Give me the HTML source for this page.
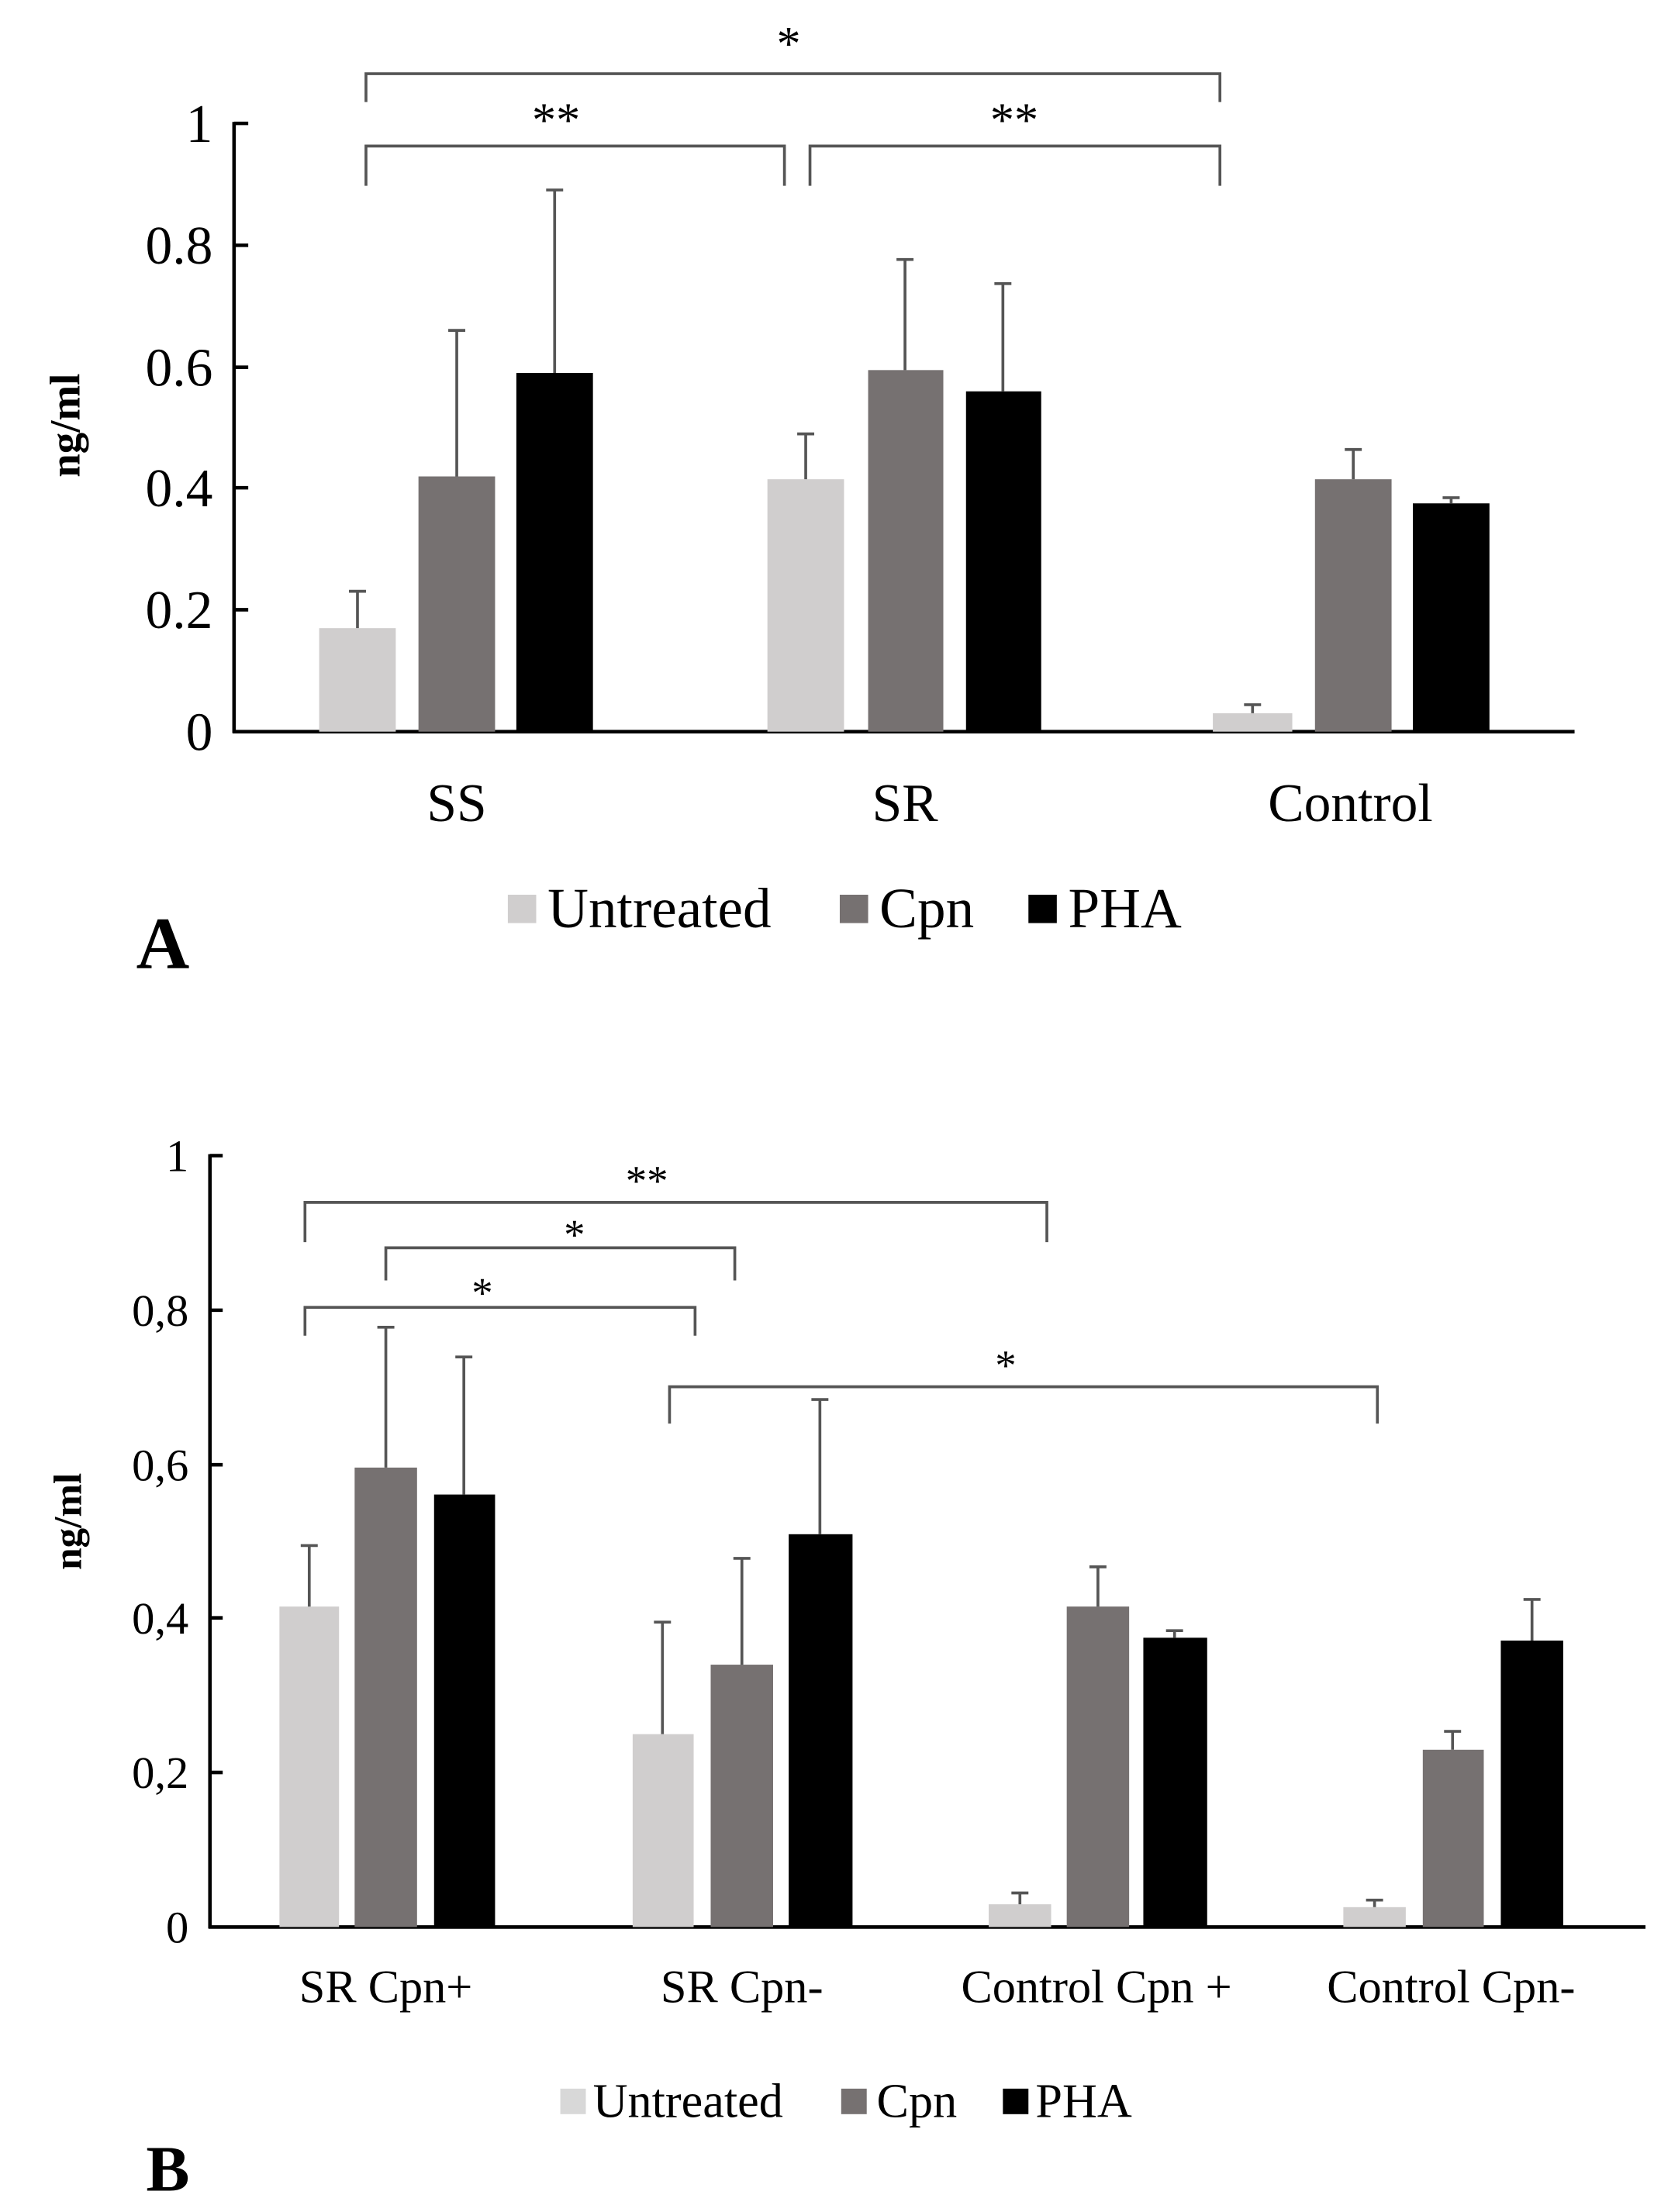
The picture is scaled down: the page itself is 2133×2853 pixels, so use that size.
<!DOCTYPE html>
<html><head><meta charset="utf-8"><style>
html,body{margin:0;padding:0;background:#fff;}
svg{display:block;}
text{font-family:"Liberation Serif",serif;fill:#000;}
</style></head><body>
<svg width="2133" height="2853" viewBox="0 0 1166 1560" preserveAspectRatio="none" xmlns="http://www.w3.org/2000/svg">
<rect width="1166" height="1560" fill="#fff"/>
<!-- Chart A -->
<g stroke="#000" stroke-width="2.5" fill="none">
<line x1="165" y1="86" x2="165" y2="517"/>
<line x1="164" y1="516" x2="1110" y2="516"/>
<line x1="165" y1="87" x2="175" y2="87"/>
<line x1="165" y1="173" x2="175" y2="173"/>
<line x1="165" y1="259" x2="175" y2="259"/>
<line x1="165" y1="344" x2="175" y2="344"/>
<line x1="165" y1="430" x2="175" y2="430"/>
</g>
<g font-size="38" text-anchor="end">
<text x="150" y="100">1</text>
<text x="150" y="186">0.8</text>
<text x="150" y="272">0.6</text>
<text x="150" y="357">0.4</text>
<text x="150" y="443">0.2</text>
<text x="150" y="529">0</text>
</g>
<text transform="translate(56,300) rotate(-90)" font-size="30" font-weight="bold" text-anchor="middle">ng/ml</text>
<!-- bars A: y = 516 - v*429 -->
<g>
<rect x="225" y="443" width="54" height="73" fill="#d0cece"/>
<rect x="295" y="336" width="54" height="180" fill="#767171"/>
<rect x="364" y="263" width="54" height="253" fill="#000"/>
<rect x="541" y="338" width="54" height="178" fill="#d0cece"/>
<rect x="612" y="261" width="53" height="255" fill="#767171"/>
<rect x="681" y="276" width="53" height="240" fill="#000"/>
<rect x="855" y="503" width="56" height="13" fill="#d0cece"/>
<rect x="927" y="338" width="54" height="178" fill="#767171"/>
<rect x="996" y="355" width="54" height="161" fill="#000"/>
</g>
<g stroke="#555" stroke-width="2" fill="none">
<path d="M252 443V417M246 417H258"/>
<path d="M322 336V233M316 233H328"/>
<path d="M391 263V134M385 134H397"/>
<path d="M568 338V306M562 306H574"/>
<path d="M638 261V183M632 183H644"/>
<path d="M707 276V200M701 200H713"/>
<path d="M883 503V497M877 497H889"/>
<path d="M954 338V317M948 317H960"/>
<path d="M1023 355V351M1017 351H1029"/>
</g>
<g stroke="#555" stroke-width="2" fill="none">
<path d="M258 72V52H860V72"/>
<path d="M258 131V103H553V131"/>
<path d="M571 131V103H860V131"/>
</g>
<g font-size="34" text-anchor="middle">
<text x="556" y="42">*</text>
<text x="392" y="96">**</text>
<text x="715" y="96">**</text>
</g>
<g font-size="38" text-anchor="middle">
<text x="322" y="579">SS</text>
<text x="638" y="579">SR</text>
<text x="952" y="579">Control</text>
</g>
<rect x="358" y="631" width="20" height="20" fill="#d0cece"/>
<rect x="592" y="631" width="20" height="20" fill="#767171"/>
<rect x="725" y="631" width="20" height="20" fill="#000"/>
<g font-size="40">
<text x="386" y="654">Untreated</text>
<text x="620" y="654">Cpn</text>
<text x="753" y="654">PHA</text>
</g>
<text x="96" y="683" font-size="52" font-weight="bold">A</text>

<!-- Chart B: y = 1359 - v*544 -->
<g stroke="#000" stroke-width="2.5" fill="none">
<line x1="148" y1="814" x2="148" y2="1360"/>
<line x1="147" y1="1359" x2="1160" y2="1359"/>
<line x1="148" y1="815" x2="157" y2="815"/>
<line x1="148" y1="924" x2="157" y2="924"/>
<line x1="148" y1="1033" x2="157" y2="1033"/>
<line x1="148" y1="1141" x2="157" y2="1141"/>
<line x1="148" y1="1250" x2="157" y2="1250"/>
</g>
<g font-size="32" text-anchor="end">
<text x="133" y="826">1</text>
<text x="133" y="935">0,8</text>
<text x="133" y="1044">0,6</text>
<text x="133" y="1152">0,4</text>
<text x="133" y="1261">0,2</text>
<text x="133" y="1370">0</text>
</g>
<text transform="translate(57,1073) rotate(-90)" font-size="28" font-weight="bold" text-anchor="middle">ng/ml</text>
<g>
<rect x="197" y="1133" width="42" height="226" fill="#d0cece"/>
<rect x="250" y="1035" width="44" height="324" fill="#767171"/>
<rect x="306" y="1054" width="43" height="305" fill="#000"/>
<rect x="446" y="1223" width="43" height="136" fill="#d0cece"/>
<rect x="501" y="1174" width="44" height="185" fill="#767171"/>
<rect x="556" y="1082" width="45" height="277" fill="#000"/>
<rect x="697" y="1343" width="44" height="16" fill="#d0cece"/>
<rect x="752" y="1133" width="44" height="226" fill="#767171"/>
<rect x="806" y="1155" width="45" height="204" fill="#000"/>
<rect x="947" y="1345" width="44" height="14" fill="#d0cece"/>
<rect x="1003" y="1234" width="43" height="125" fill="#767171"/>
<rect x="1058" y="1157" width="44" height="202" fill="#000"/>
</g>
<g stroke="#555" stroke-width="2" fill="none">
<path d="M218 1133V1090M212 1090H224"/>
<path d="M272 1035V936M266 936H278"/>
<path d="M327 1054V957M321 957H333"/>
<path d="M467 1223V1144M461 1144H473"/>
<path d="M523 1174V1099M517 1099H529"/>
<path d="M578 1082V987M572 987H584"/>
<path d="M719 1343V1335M713 1335H725"/>
<path d="M774 1133V1105M768 1105H780"/>
<path d="M828 1155V1150M822 1150H834"/>
<path d="M969 1345V1340M963 1340H975"/>
<path d="M1024 1234V1221M1018 1221H1030"/>
<path d="M1080 1157V1128M1074 1128H1086"/>
</g>
<g stroke="#555" stroke-width="2" fill="none">
<path d="M215 876V848H738V876"/>
<path d="M272 903V880H518V903"/>
<path d="M215 942V922H490V942"/>
<path d="M472 1004V978H971V1004"/>
</g>
<g font-size="30" text-anchor="middle">
<text x="456" y="843">**</text>
<text x="405" y="881">*</text>
<text x="340" y="922">*</text>
<text x="709" y="973">*</text>
</g>
<g font-size="33" text-anchor="middle">
<text x="272" y="1412">SR Cpn+</text>
<text x="523" y="1412">SR Cpn-</text>
<text x="773" y="1412">Control Cpn +</text>
<text x="1023" y="1412">Control Cpn-</text>
</g>
<rect x="395" y="1473" width="18" height="18" fill="#d8d8d8"/>
<rect x="593" y="1473" width="18" height="18" fill="#767171"/>
<rect x="707" y="1473" width="18" height="18" fill="#000"/>
<g font-size="34">
<text x="418" y="1493">Untreated</text>
<text x="618" y="1493">Cpn</text>
<text x="730" y="1493">PHA</text>
</g>
<text x="103" y="1545" font-size="46" font-weight="bold">B</text>
</svg>
</body></html>
